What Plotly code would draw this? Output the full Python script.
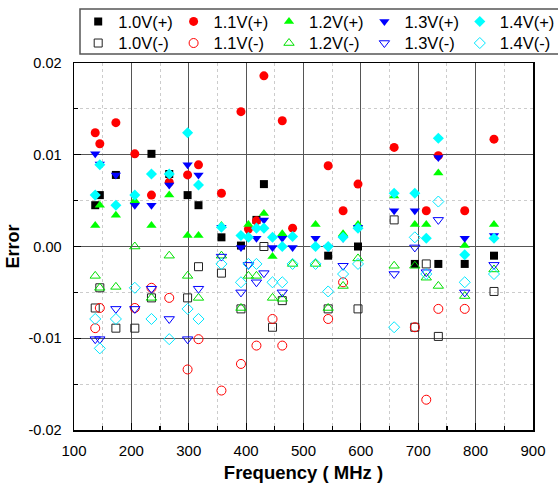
import plotly.graph_objects as go

# Frequencies (MHz) shared by all series
freq = [137, 145, 173, 206, 235, 266, 298, 317, 357, 391, 404, 418, 431,
        446, 463, 481, 521, 543, 569, 595, 658, 694, 714, 735, 781, 832]

v10p = [0.0045, 0.0056, 0.0078, None, 0.0101, 0.0079, 0.0056, 0.0045, 0.0010, 0.0001, None, 0.0029, 0.0068,
        None, None, None, None, -0.0010, None, 0.0000, None, -0.0019, None, -0.0019, -0.0019, -0.0010]
v10m = [-0.0067, -0.0045, -0.0089, -0.0089, -0.0056, None, -0.0056, -0.0022, -0.0029, -0.0068, None, None, 0.0000,
        -0.0088, -0.0059, None, None, -0.0068, None, -0.0068, 0.0029, -0.0088, -0.0019, -0.0098, None, -0.0049]
v11p = [0.0124, 0.0112, 0.0135, 0.0101, 0.0056, 0.0070, 0.0078, 0.0089, 0.0058, 0.0147, 0.0019, 0.0028, 0.0186,
        None, 0.0137, 0.0020, None, 0.0088, 0.0039, 0.0068, 0.0108, None, 0.0039, 0.0099, 0.0039, 0.0117]
v11m = [-0.0089, -0.0067, None, -0.0067, -0.0045, -0.0056, -0.0134, -0.0101, -0.0157, -0.0128, None, -0.0108, None,
        -0.0079, -0.0108, None, None, -0.0079, -0.0039, None, None, -0.0088, -0.0167, -0.0068, -0.0068, None]
v12p = [0.0023, 0.0045, 0.0034, 0.0050, 0.0023, 0.0056, 0.0012, 0.0012, 0.0023, None, 0.0024, None, 0.0036,
        -0.0011, 0.0014, None, 0.0024, None, 0.0014, 0.0024, 0.0055, 0.0024, 0.0024, 0.0080, 0.0001, 0.0024]
v12m = [-0.0032, -0.0045, -0.0044, 0.0000, -0.0056, -0.0010, -0.0032, -0.0056, -0.0010, -0.0067, -0.0032, -0.0032, None,
        -0.0056, -0.0057, -0.0019, -0.0019, -0.0067, -0.0043, -0.0013, -0.0021, -0.0021, -0.0034, -0.0043, -0.0054, -0.0025]
v13p = [0.0101, 0.0090, 0.0078, 0.0045, 0.0045, 0.0067, 0.0089, 0.0078, 0.0021, -0.0001, None, 0.0009, 0.0029,
        -0.0001, 0.0009, -0.0001, 0.0009, -0.0001, 0.0009, 0.0021, 0.0039, 0.0039, None, 0.0097, 0.0009, 0.0012]
v13m = [-0.0101, -0.0101, -0.0068, -0.0068, -0.0046, -0.0079, -0.0101, -0.0046, -0.0011, -0.0050, -0.0020, -0.0039, -0.0029,
        None, -0.0050, None, None, None, -0.0021, None, -0.0030, -0.0001, -0.0028, 0.0029, -0.0050, -0.0020]
v14p = [0.0056, 0.0089, 0.0045, 0.0056, 0.0079, 0.0079, 0.0124, 0.0067, 0.0021, 0.0012, 0.0010, 0.0020, 0.0020,
        0.0010, 0.0000, 0.0011, 0.0000, 0.0000, 0.0010, 0.0020, 0.0058, 0.0058, 0.0009, 0.0118, -0.0009, 0.0009]
v14m = [-0.0079, -0.0111, -0.0079, -0.0045, -0.0079, -0.0101, -0.0068, -0.0079, -0.0019, -0.0039, -0.0019, -0.0019, None,
        -0.0039, -0.0039, -0.0019, -0.0019, -0.0049, -0.0030, -0.0019, -0.0088, 0.0010, -0.0030, 0.0049, -0.0039, -0.0030]

series_names = ["1.0V(+)", "1.0V(-)", "1.1V(+)", "1.1V(-)", "1.2V(+)", "1.2V(-)",
                "1.3V(+)", "1.3V(-)", "1.4V(+)", "1.4V(-)"]
series_values = [v10p, v10m, v11p, v11m, v12p, v12m, v13p, v13m, v14p, v14m]

y_tickvals = [-0.02, -0.01, 0.0, 0.01, 0.02]
y_ticktext = ["-0.02", "-0.01", "0.00", "0.01", "0.02"]
x_tickvals = [100, 200, 300, 400, 500, 600, 700, 800, 900]

# styles
symbols = ["square", "square-open", "circle", "circle-open", "triangle-up", "triangle-up-open",
           "triangle-down", "triangle-down-open", "diamond", "diamond-open"]
colors = ["#000000", "#222222", "#FF0000", "#FF0000", "#00FF00", "#00E000",
          "#0000FF", "#0000FF", "#00FFFF", "#00E8FF"]
sizes = [8, 8, 9, 9, 9, 9, 9, 9, 8.5, 8.5]

FONT = "Arial, Liberation Sans, sans-serif"

fig = go.Figure()
for i, (name, vals) in enumerate(zip(series_names, series_values)):
    xs = [f for f, v in zip(freq, vals) if v is not None]
    ys = [v for v in vals if v is not None]
    is_open = symbols[i].endswith("open")
    fig.add_trace(go.Scatter(
        x=xs, y=ys, mode="markers", name=name,
        legend="legend" if "(+)" in name else "legend2",
        marker=dict(symbol=symbols[i], size=sizes[i], color=colors[i],
                    line=dict(width=1 if is_open else 0, color=colors[i])),
    ))

W, H = 558, 486
L, R, T, B = 74, 25, 63, 56
pw, ph = W - L - R, H - T - B


def px_x(p):
    return (p - L) / pw


def px_y(p):
    return (H - B - p) / ph


ENTRY = 50.4          # text area of each legend entry (px)
LEG_RIGHT = 78.2 + 5 * (ENTRY + 45)

leg_common = dict(orientation="h", xanchor="right", yanchor="middle",
                  entrywidth=ENTRY, entrywidthmode="pixels",
                  font=dict(family=FONT, size=16.5, color="black"),
                  bgcolor="rgba(0,0,0,0)", borderwidth=0,
                  itemclick=False, itemdoubleclick=False)

fig.update_layout(
    width=W, height=H,
    margin=dict(l=L, r=R, t=T, b=B, autoexpand=False),
    paper_bgcolor="white", plot_bgcolor="white",
    font=dict(family=FONT, color="black"),
    showlegend=True,
    legend=dict(x=px_x(LEG_RIGHT), y=px_y(21.7), **leg_common),
    legend2=dict(x=px_x(LEG_RIGHT), y=px_y(43.3), **leg_common),
    xaxis=dict(
        range=[100, 900], tickvals=x_tickvals,
        ticks="inside", ticklen=7, tickwidth=1.2, tickcolor="black",
        showline=True, linecolor="black", linewidth=1.5, mirror=True,
        showgrid=True, gridcolor="#555555", gridwidth=1,
        zeroline=False, ticklabelstandoff=6,
        minor=dict(dtick=50, ticks="inside", ticklen=4, tickcolor="black",
                   showgrid=True, gridcolor="#CCCCCC", griddash="dot", gridwidth=1),
        tickfont=dict(family=FONT, size=15, color="black"),
        title=dict(text="<b>Frequency ( MHz )</b>", font=dict(family=FONT, size=18.5, color="black"),
                   standoff=8),
    ),
    yaxis=dict(
        range=[-0.02, 0.02], tickvals=y_tickvals, ticktext=y_ticktext,
        ticks="inside", ticklen=7, tickwidth=1.2, tickcolor="black",
        showline=True, linecolor="black", linewidth=1.5, mirror=True,
        showgrid=True, gridcolor="#555555", gridwidth=1,
        zeroline=False, ticklabelstandoff=8,
        minor=dict(dtick=0.005, ticks="inside", ticklen=4, tickcolor="black",
                   showgrid=True, gridcolor="#CCCCCC", griddash="dot", gridwidth=1),
        tickfont=dict(family=FONT, size=14.5, color="black"),
        title=dict(text="<b>Error</b>", font=dict(family=FONT, size=18, color="black"),
                   standoff=4),
    ),
    shapes=[dict(type="rect", xref="paper", yref="paper",
                 x0=px_x(80), x1=px_x(600), y0=px_y(54), y1=px_y(9),
                 line=dict(color="#555555", width=1.5), fillcolor="rgba(0,0,0,0)")],
)

fig.write_html("out.html",
               config={"displayModeBar": False, "staticPlot": True},
               post_script="document.body.style.margin='0';document.body.style.padding='0';"
                           "document.body.style.overflow='hidden';")
